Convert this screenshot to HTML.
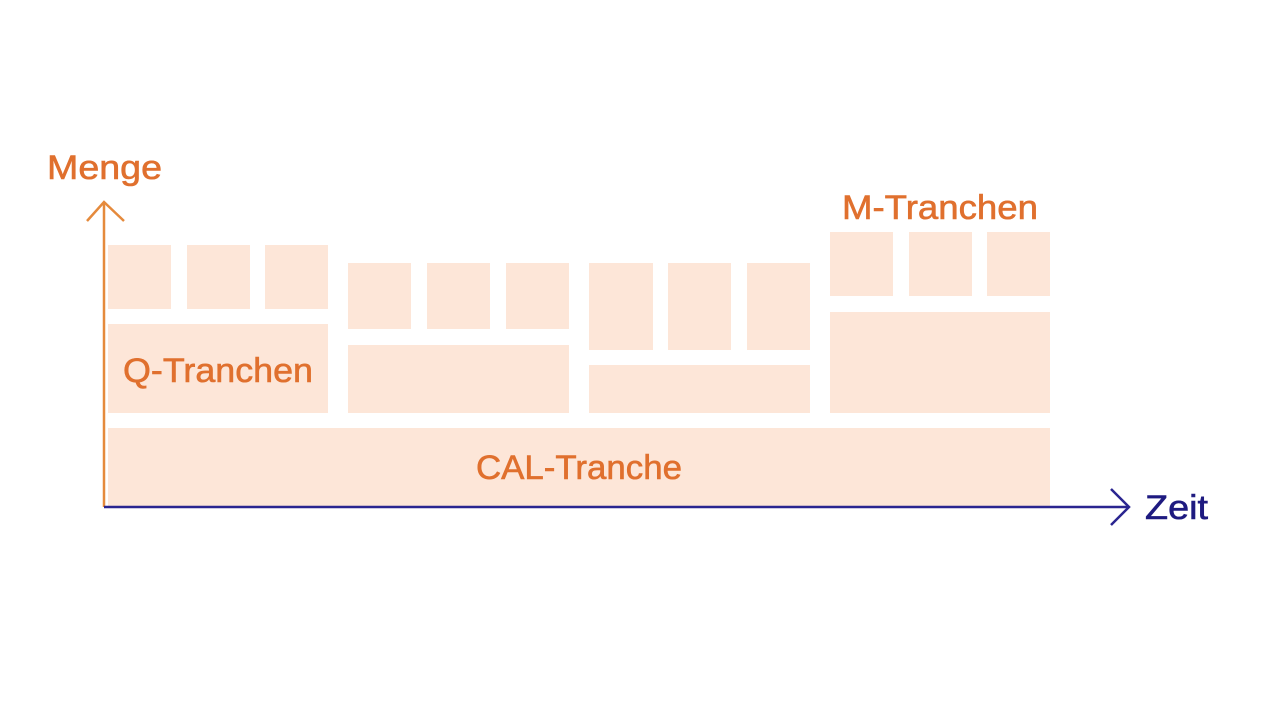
<!DOCTYPE html>
<html><head><meta charset="utf-8"><style>
html,body{margin:0;padding:0;background:#fff;width:1280px;height:720px;overflow:hidden}
</style></head><body>
<svg width="1280" height="720" xmlns="http://www.w3.org/2000/svg" font-family="'Liberation Sans', 'DejaVu Sans', sans-serif">
<g fill="#fde6d8">
<rect x="108" y="245" width="63" height="64"/><rect x="187" y="245" width="63" height="64"/><rect x="265" y="245" width="63" height="64"/>
<rect x="108" y="324" width="220" height="89"/>
<rect x="348" y="263" width="63" height="66"/><rect x="427" y="263" width="63" height="66"/><rect x="506" y="263" width="63" height="66"/>
<rect x="348" y="345" width="221" height="68"/>
<rect x="589" y="263" width="64" height="87"/><rect x="668" y="263" width="63" height="87"/><rect x="747" y="263" width="63" height="87"/>
<rect x="589" y="365" width="221" height="48"/>
<rect x="830" y="232" width="63" height="64"/><rect x="909" y="232" width="63" height="64"/><rect x="987" y="232" width="63" height="64"/>
<rect x="830" y="312" width="220" height="101"/>
<rect x="108" y="428" width="942" height="78"/>
</g>
<g stroke="#e58a3c" stroke-width="2.5" fill="none">
<line x1="104" y1="202" x2="104" y2="507"/>
<polyline points="87,221 104,202 124,221"/>
</g>
<g stroke="#2a2590" stroke-width="2.5" fill="none">
<line x1="104" y1="507" x2="1129" y2="507"/>
<polyline points="1111,489 1129,507 1111,525"/>
</g>
<g fill="#e0702e" font-size="34" stroke="#e0702e" stroke-width="0.6" lengthAdjust="spacingAndGlyphs">
<text x="47" y="179" textLength="115" lengthAdjust="spacingAndGlyphs">Menge</text>
<text x="842" y="219" textLength="196" lengthAdjust="spacingAndGlyphs">M-Tranchen</text>
<text x="123" y="382" textLength="190" lengthAdjust="spacingAndGlyphs">Q-Tranchen</text>
<text x="476" y="479" textLength="206" lengthAdjust="spacingAndGlyphs">CAL-Tranche</text>
</g>
<text x="1145" y="519" fill="#1e1a80" stroke="#1e1a80" stroke-width="0.6" font-size="34" textLength="63" lengthAdjust="spacingAndGlyphs">Zeit</text>
</svg>
</body></html>
